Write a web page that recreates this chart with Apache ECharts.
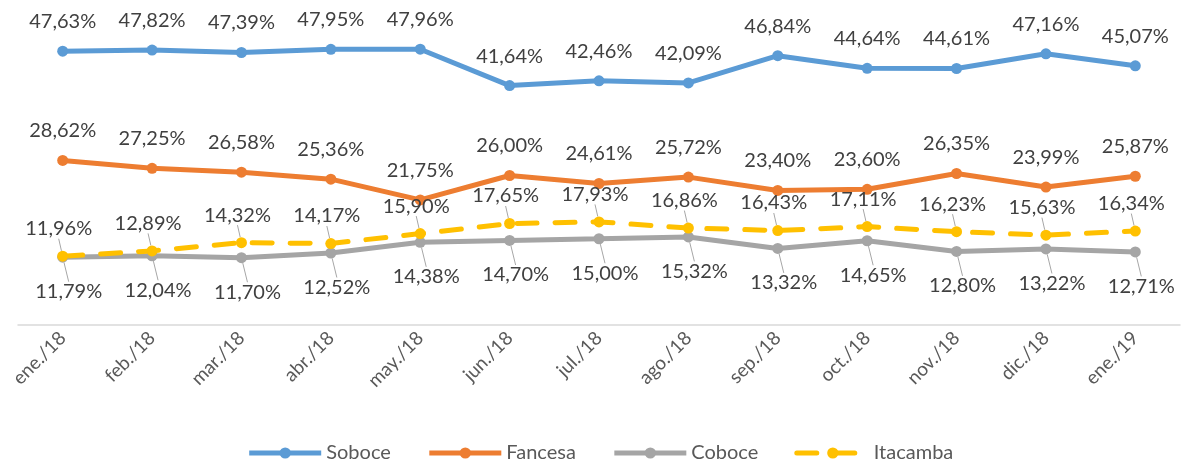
<!DOCTYPE html>
<html>
<head>
<meta charset="utf-8">
<script src="https://cdn.jsdelivr.net/npm/echarts@6/dist/echarts.min.js"></script>
<style>
  html, body { margin: 0; padding: 0; background: #fff; }
  #chart { width: 1200px; height: 470px; }
</style>
</head>
<body>
<div id="chart"></div>
<script>
// meses
const months = ['ene./18', 'feb./18', 'mar./18', 'abr./18', 'may./18', 'jun./18', 'jul./18',
  'ago./18', 'sep./18', 'oct./18', 'nov./18', 'dic./18', 'ene./19'];

// participación (%)
const soboce = [47.63, 47.82, 47.39, 47.95, 47.96, 41.64, 42.46, 42.09, 46.84, 44.64, 44.61, 47.16, 45.07];
const fancesa = [28.62, 27.25, 26.58, 25.36, 21.75, 26.00, 24.61, 25.72, 23.40, 23.60, 26.35, 23.99, 25.87];
const coboce = [11.79, 12.04, 11.70, 12.52, 14.38, 14.70, 15.00, 15.32, 13.32, 14.65, 12.80, 13.22, 12.71];
const itacamba = [11.96, 12.89, 14.32, 14.17, 15.90, 17.65, 17.93, 16.86, 16.43, 17.11, 16.23, 15.63, 16.34];

const FONT = 'Lato';
const fmt = p => p.value.toFixed(2).replace('.', ',') + '%';
const lbl = (pos, dist) => ({
  show: true, position: pos, distance: dist, formatter: fmt,
  color: '#404040', fontFamily: FONT, fontSize: 20
});

const mkSeries = (name, data, color, opts) => Object.assign({
  name: name,
  type: 'line',
  data: data,
  symbol: 'circle',
  symbolSize: 11,
  itemStyle: { color: color },
  lineStyle: { color: color, width: 5 },
  label: lbl('top', 14)
}, opts || {});

const chart = echarts.init(document.getElementById('chart'));
chart.setOption({
  animation: false,
  textStyle: { fontFamily: FONT },
  grid: { left: 18, right: 20, top: 37.5, bottom: 145 },
  legend: {
    bottom: 2,
    left: 'center',
    itemWidth: 72,
    itemHeight: 14,
    itemGap: 36,
    lineStyle: { width: 5 },
    textStyle: { color: '#595959', fontSize: 20, fontFamily: FONT },
    data: ['Soboce', 'Fancesa', 'Coboce', 'Itacamba']
  },
  xAxis: {
    type: 'category',
    data: months,
    axisLine: { lineStyle: { color: '#d9d9d9', width: 1.5 } },
    axisTick: { show: false },
    axisLabel: { rotate: 45, color: '#595959', fontSize: 19, fontFamily: FONT, margin: 10 }
  },
  yAxis: { type: 'value', min: 0, max: 50, show: false, splitLine: { show: false } },
  series: [
    mkSeries('Soboce', soboce, '#5B9BD5'),
    mkSeries('Fancesa', fancesa, '#ED7D31'),
    mkSeries('Coboce', coboce, '#A5A5A5', {
      label: lbl('bottom', 6),
      labelLayout: { dx: 6, dy: 13 },
      labelLine: { show: true, lineStyle: { color: '#a6a6a6', width: 1 } }
    }),
    mkSeries('Itacamba', itacamba, '#FFC000', {
      lineStyle: { color: '#FFC000', width: 5, type: [20, 18], cap: 'round' },
      z: 3,
      label: lbl('top', 6),
      labelLayout: { dx: -4, dy: -6 },
      labelLine: { show: true, lineStyle: { color: '#a6a6a6', width: 1 } }
    })
  ]
});
</script>
</body>
</html>
